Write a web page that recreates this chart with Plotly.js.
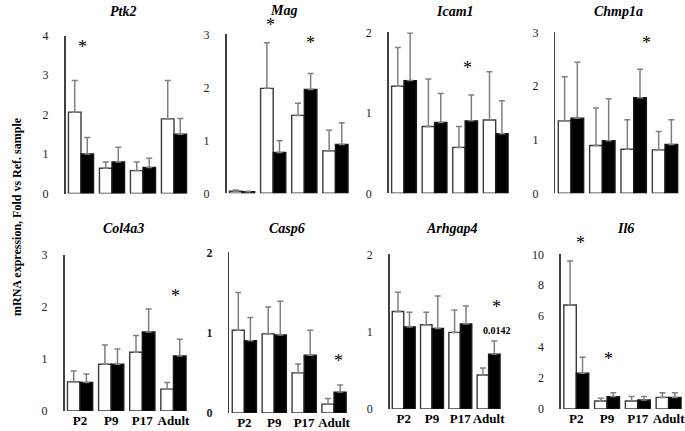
<!DOCTYPE html>
<html>
<head>
<meta charset="utf-8">
<script src="https://cdn.plot.ly/plotly-3.0.1.min.js"></script>
<style>html,body{margin:0;padding:0;background:#fff;}#chart{width:685px;height:431px;}</style>
</head>
<body>
<div id="chart"></div>
<script>
// ---- data ----
const groups = ['P2', 'P9', 'P17', 'Adult'];
const genes = ['Ptk2', 'Mag', 'Icam1', 'Chmp1a', 'Col4a3', 'Casp6', 'Arhgap4', 'Il6'];

const ptk2White = [2.06, 0.64, 0.58, 1.89];
const ptk2WhiteSd = [0.80, 0.16, 0.22, 0.97];
const ptk2Black = [1.00, 0.80, 0.66, 1.50];
const ptk2BlackSd = [0.42, 0.37, 0.23, 0.40];

const magWhite = [0.04, 1.98, 1.47, 0.80];
const magWhiteSd = [0.02, 0.86, 0.23, 0.39];
const magBlack = [0.03, 0.77, 1.96, 0.92];
const magBlackSd = [0.01, 0.22, 0.30, 0.41];

const icam1White = [1.33, 0.83, 0.57, 0.91];
const icam1WhiteSd = [0.48, 0.59, 0.26, 0.60];
const icam1Black = [1.40, 0.88, 0.90, 0.74];
const icam1BlackSd = [0.59, 0.36, 0.32, 0.41];

const chmp1aWhite = [1.35, 0.89, 0.82, 0.81];
const chmp1aWhiteSd = [0.82, 0.70, 0.55, 0.34];
const chmp1aBlack = [1.40, 0.98, 1.78, 0.91];
const chmp1aBlackSd = [1.04, 0.78, 0.53, 0.46];

const col4a3White = [0.56, 0.90, 1.13, 0.42];
const col4a3WhiteSd = [0.21, 0.37, 0.32, 0.13];
const col4a3Black = [0.55, 0.90, 1.52, 1.06];
const col4a3BlackSd = [0.16, 0.29, 0.44, 0.32];

const casp6White = [1.03, 0.985, 0.50, 0.11];
const casp6WhiteSd = [0.47, 0.335, 0.11, 0.07];
const casp6Black = [0.90, 0.97, 0.72, 0.26];
const casp6BlackSd = [0.29, 0.42, 0.31, 0.09];

const arhgap4White = [1.26, 1.09, 0.99, 0.44];
const arhgap4WhiteSd = [0.25, 0.16, 0.29, 0.09];
const arhgap4Black = [1.06, 1.04, 1.10, 0.71];
const arhgap4BlackSd = [0.19, 0.42, 0.23, 0.17];

const il6White = [6.72, 0.52, 0.52, 0.75];
const il6WhiteSd = [2.85, 0.17, 0.28, 0.30];
const il6Black = [2.31, 0.80, 0.58, 0.75];
const il6BlackSd = [1.03, 0.25, 0.22, 0.30];

const yMax = [4, 3, 2, 3, 3, 2, 2, 10];
const yStep = [1, 1, 1, 1, 1, 1, 1, 2];

// significance marks: [panel index, group, y value, label]
const sigMarks = [
  [0, 'P2', 3.8, '*'],
  [1, 'P9', 3.26, '*'],
  [1, 'P17', 2.92, '*'],
  [2, 'P17', 1.61, '*'],
  [3, 'P17', 2.87, '*'],
  [4, 'Adult', 2.29, '*'],
  [5, 'Adult', 0.70, '*'],
  [6, 'Adult', 1.37, '*'],
  [6, 'Adult', 1.02, '0.0142'],
  [7, 'P2', 11.0, '*'],
  [7, 'P9', 3.49, '*']
];
const yTitle = 'mRNA expression, Fold vs Ref. sample';

// ---- layout geometry (pixels) ----
const W = 685, H = 431;
const whiteSets = [ptk2White, magWhite, icam1White, chmp1aWhite, col4a3White, casp6White, arhgap4White, il6White];
const whiteSds = [ptk2WhiteSd, magWhiteSd, icam1WhiteSd, chmp1aWhiteSd, col4a3WhiteSd, casp6WhiteSd, arhgap4WhiteSd, il6WhiteSd];
const blackSets = [ptk2Black, magBlack, icam1Black, chmp1aBlack, col4a3Black, casp6Black, arhgap4Black, il6Black];
const blackSds = [ptk2BlackSd, magBlackSd, icam1BlackSd, chmp1aBlackSd, col4a3BlackSd, casp6BlackSd, arhgap4BlackSd, il6BlackSd];

const xPix = [[65.5, 189.5], [226.5, 351], [388.7, 511], [555.3, 680.7],
              [64.5, 189], [229.4, 349], [389.6, 512.6], [560.9, 684]];
const yPix = [[35.5, 193.5], [34.3, 193.3], [32.3, 193.3], [32.3, 193.3],
              [255, 411], [252.3, 413], [254.3, 409], [254.3, 409]];
const titlePos = [[123, 12], [283, 11], [455, 12], [618, 12], [123, 228], [287, 228], [452, 228], [625, 228]];
const sigShift = [1, -3, 6, 2, 13, 2, 4, 8, 8, 4, 1];

const serif = 'Liberation Serif, Times New Roman, serif';
const traces = [];
const layout = {
  width: W, height: H,
  margin: {l: 0, r: 0, t: 0, b: 0},
  paper_bgcolor: '#ffffff', plot_bgcolor: '#ffffff',
  showlegend: false,
  bargap: 0.19, bargroupgap: 0,
  barmode: 'group',
  font: {family: serif, color: '#000000', size: 11},
  annotations: []
};

const errStyle = (sd) => ({
  type: 'data', symmetric: false, array: sd, arrayminus: sd.map(() => 0),
  color: '#808080', thickness: 1.5, width: 3
});

for (let i = 0; i < 8; i++) {
  const ax = i === 0 ? '' : String(i + 1);
  traces.push({
    type: 'bar', x: groups, y: whiteSets[i], xaxis: 'x' + ax, yaxis: 'y' + ax,
    marker: {color: '#ffffff', line: {color: '#3a3a3a', width: 1.4}},
    error_y: errStyle(whiteSds[i]), hoverinfo: 'skip'
  });
  traces.push({
    type: 'bar', x: groups, y: blackSets[i], xaxis: 'x' + ax, yaxis: 'y' + ax,
    marker: {color: '#000000', line: {color: '#1a1a1a', width: 1.4}},
    error_y: errStyle(blackSds[i]), hoverinfo: 'skip'
  });
  const bottomRow = i >= 4;
  layout['xaxis' + ax] = {
    domain: [xPix[i][0] / W, xPix[i][1] / W],
    anchor: 'y' + ax, type: 'category',
    showgrid: false, zeroline: false, showline: false, ticks: '',
    showticklabels: bottomRow, tickangle: 0,
    tickfont: {family: serif, size: 13, color: '#000000', weight: 'bold'},
    fixedrange: true
  };
  layout['yaxis' + ax] = {
    domain: [1 - yPix[i][1] / H, 1 - yPix[i][0] / H],
    anchor: 'x' + ax, range: [0, yMax[i]], dtick: yStep[i], tick0: 0,
    showgrid: false, zeroline: false, showline: true, linecolor: '#404040', linewidth: 1.5,
    ticks: '', ticklabelstandoff: 13,
    tickfont: {family: serif, size: 12, color: '#222222', weight: i === 5 ? 'bold' : 'normal'},
    fixedrange: true
  };
  layout.annotations.push({
    xref: 'paper', yref: 'paper', x: titlePos[i][0] / W, y: 1 - titlePos[i][1] / H,
    xanchor: 'center', yanchor: 'middle', showarrow: false,
    text: '<b><i>' + genes[i] + '</i></b>',
    font: {family: serif, size: 14, color: '#000000'}
  });
}

sigMarks.forEach((m, k) => {
  const p = m[0];
  const ax = p === 0 ? '' : String(p + 1);
  const isStar = m[3] === '*';
  layout.annotations.push({
    xref: 'x' + ax, yref: 'y' + ax + ' domain', x: m[1], y: m[2] / yMax[p],
    xshift: sigShift[k], yshift: isStar ? -4 : 0,
    xanchor: 'center', yanchor: 'middle', showarrow: false,
    text: isStar ? m[3] : '<b>' + m[3] + '</b>',
    font: {family: serif, size: isStar ? 18 : 10, color: '#000000'}
  });
});

layout.annotations.push({
  xref: 'paper', yref: 'paper', x: 17 / W, y: 1 - 217 / H,
  xanchor: 'center', yanchor: 'middle', showarrow: false, textangle: -90,
  text: '<b>' + yTitle + '</b>',
  font: {family: serif, size: 12, color: '#000000'}
});

Plotly.newPlot('chart', traces, layout, {staticPlot: true, displayModeBar: false});
</script>
</body>
</html>
